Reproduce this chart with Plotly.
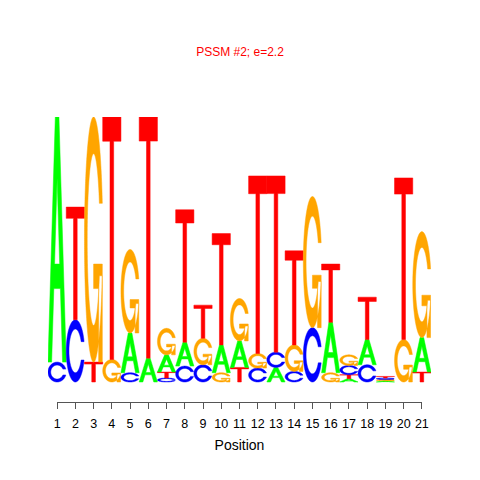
import numpy as np
import plotly.graph_objects as go

# letter heights (bits) per position
positions = list(range(1, 22))
A = [1.85, 0, 0, 0, 0.30, 0.18, 0.13, 0.18, 0, 0.21, 0.20, 0, 0.11, 0, 0, 0.38, 0.025, 0.19, 0.009, 0, 0.26]
C = [0.15, 0.47, 0, 0, 0.07, 0, 0.03, 0.12, 0.13, 0, 0, 0.105, 0.115, 0.08, 0.41, 0, 0.07, 0.13, 0.011, 0, 0]
G = [0, 0, 1.85, 0.17, 0.63, 0, 0.20, 0, 0.20, 0.07, 0.32, 0.11, 0, 0.20, 0.99, 0.07, 0.08, 0, 0.010, 0.32, 0.80]
T = [0, 0.85, 0.15, 1.83, 0, 1.82, 0.045, 1.00, 0.25, 0.84, 0.11, 1.34, 1.33, 0.71, 0, 0.44, 0.03, 0.32, 0.012, 1.22, 0.075]

title_text = "PSSM #2; e=2.2"
colors = {"A": "#00FF00", "C": "#0000FF", "G": "#FFA500", "T": "#FF0000"}


# glyph outlines in a unit box (same construction as R seqLogo)
def _c_outline():
    a1 = np.linspace(0.3 + np.pi / 2, np.pi, 100)
    a2 = np.linspace(np.pi, 1.5 * np.pi, 100)
    xl = np.concatenate([0.5 + 0.5 * np.sin(a1), 0.5 + 0.5 * np.sin(a2)])
    yl = np.concatenate([0.5 + 0.5 * np.cos(a1), 0.5 + 0.5 * np.cos(a2)])
    x = np.concatenate([xl, xl[::-1]])
    y = np.concatenate([yl, 1 - yl[::-1]])
    hmax = (0.5 + 0.5 * np.cos(a1)).max()
    xi1 = 0.5 + 0.35 * np.sin(a1)
    yi1 = 0.5 + 0.35 * np.cos(a1)
    keep = yi1 <= hmax
    xi1, yi1 = xi1[keep], yi1[keep]
    yi1[0] = hmax
    xi = np.concatenate([xi1, 0.5 + 0.35 * np.sin(a2)])
    yi = np.concatenate([yi1, 0.5 + 0.35 * np.cos(a2)])
    x1 = np.concatenate([xi, xi[::-1]])
    y1 = np.concatenate([yi, 1 - yi[::-1]])
    x = np.concatenate([x, x1[::-1]])
    y = np.concatenate([y, y1[::-1]])
    return x, y, (0.5 + 0.5 * np.sin(a1)).max()


def glyph(letter):
    if letter == "A":
        return [([0, 0.4, 0.6, 1, 0.8, 0.68, 0.32, 0.2], [0, 1, 1, 0, 0, 0.3, 0.3, 0]),
                ([0.36, 0.5, 0.64], [0.4, 0.75, 0.4])]
    if letter == "T":
        return [([0, 1, 1, 0.6, 0.6, 0.4, 0.4, 0], [1, 1, 0.9, 0.9, 0, 0, 0.9, 0.9])]
    x, y, r1 = _c_outline()
    polys = [(list(x), list(y))]
    if letter == "G":
        h1 = 0.4
        polys.append(([r1, 0.5, 0.5, r1 - 0.2, r1 - 0.2, r1],
                      [h1, h1, h1 - 0.1, h1 - 0.1, 0, 0]))
    return polys


def letter_path(letter, xc, y0, h, w=1.0):
    parts = []
    for px, py in glyph(letter):
        pts = [f"{xc - w / 2 + a * w:.4f},{y0 + b * h:.5f}" for a, b in zip(px, py)]
        parts.append("M" + " L".join(pts) + " Z")
    return " ".join(parts)


fig = go.Figure()
shapes = []
for i, pos in enumerate(positions):
    stack = [(h, L) for L, h in (("A", A[i]), ("C", C[i]), ("G", G[i]), ("T", T[i])) if h > 0]
    stack.sort()
    base = 0.0
    for h, L in stack:
        shapes.append(dict(type="path", xref="x", yref="y",
                           path=letter_path(L, pos, base, h),
                           fillcolor=colors[L], fillrule="evenodd",
                           line=dict(color=colors[L], width=0.5), layer="above"))
        base += h

# the visible position axis lives on its own subplot spanning 1..21 only
fig.add_trace(go.Scatter(x=positions, y=[0] * len(positions), xaxis="x2", yaxis="y2",
                         mode="markers", marker=dict(size=0, opacity=0),
                         hoverinfo="skip", showlegend=False))

fig.update_layout(
    width=480, height=480,
    margin=dict(l=48, r=49, t=117, b=78),
    paper_bgcolor="white", plot_bgcolor="white",
    font=dict(family="Liberation Sans, Arial, sans-serif", size=12, color="black"),
    title=dict(text=title_text, x=0.5, xanchor="center", y=1 - 52 / 480, yanchor="middle",
               font=dict(color="#FF0000", size=12)),
    shapes=shapes,
    showlegend=False,
    xaxis=dict(range=[0.5, 21.5], visible=False, fixedrange=True),
    yaxis=dict(range=[-0.151, 2.0], visible=False, fixedrange=True),
    xaxis2=dict(anchor="y2", side="bottom",
                domain=[9.125 / 383, 1 - 9.125 / 383], range=[1, 21],
                tickmode="array", tickvals=positions, ticktext=[str(p) for p in positions],
                ticks="outside", ticklen=6, tickcolor="#555555", tickwidth=1,
                ticklabelstandoff=4, tickfont=dict(size=12.5),
                showline=True, linecolor="#555555", linewidth=1,
                showgrid=False, zeroline=False, fixedrange=True,
                title=dict(text="Position", standoff=10)),
    yaxis2=dict(anchor="x2", domain=[0, 1], range=[-1, 1], visible=False, fixedrange=True),
)

fig.write_html("out.html", config={"displayModeBar": False},
               post_script="document.body.style.margin='0px';")
